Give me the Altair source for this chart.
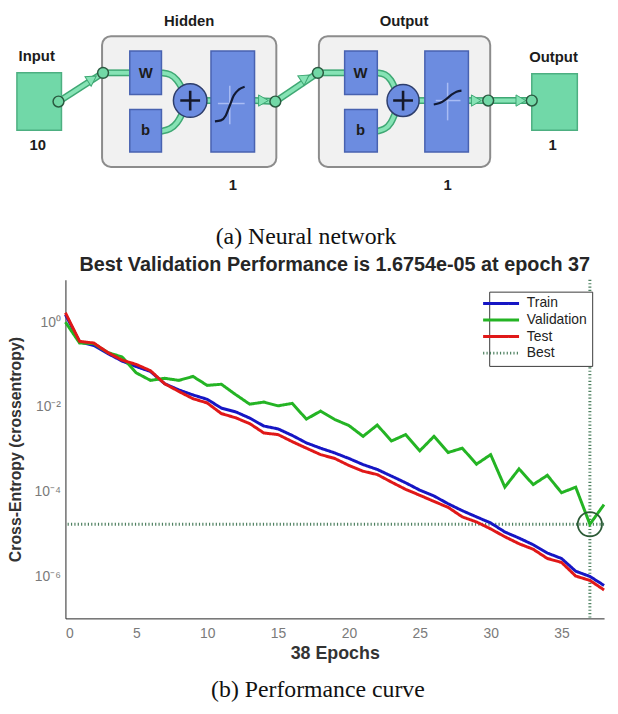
import altair as alt
import pandas as pd

# ---------------- performance curve data ----------------
epochs = list(range(39))
train = [1.5, 0.34, 0.28, 0.18, 0.12, 0.089, 0.068, 0.035, 0.025, 0.019,
         0.015, 0.0093, 0.0076, 0.0054, 0.0035, 0.0030, 0.0021, 0.0014, 1.05e-3, 8.1e-4,
         6.0e-4, 4.3e-4, 3.3e-4, 2.3e-4, 1.6e-4, 1.07e-4, 7.8e-5, 5.1e-5, 3.5e-5, 2.5e-5,
         1.8e-5, 1.1e-5, 7.9e-6, 5.5e-6, 3.5e-6, 2.6e-6, 1.3e-6, 9.8e-7, 6.0e-7]
validation = [1.0, 0.32, 0.31, 0.19, 0.15, 0.063, 0.042, 0.047, 0.042, 0.052,
              0.032, 0.034, 0.0195, 0.0115, 0.0129, 0.0105, 0.012, 0.0051, 0.0079, 0.0050,
              0.0036, 0.0020, 0.0037, 0.00155, 0.0022, 9.1e-4, 0.0020, 8.3e-4, 1.05e-3, 4.4e-4,
              7.4e-4, 1.26e-4, 3.4e-4, 1.45e-4, 2.4e-4, 9.3e-5, 1.26e-4, 1.6754e-5, 4.9e-5]
test = [1.66, 0.35, 0.32, 0.19, 0.126, 0.10, 0.071, 0.035, 0.023, 0.0155,
        0.0123, 0.0069, 0.0055, 0.0040, 0.0024, 0.0022, 0.0015, 1.05e-3, 7.4e-4, 6.0e-4,
        4.1e-4, 3.0e-4, 2.5e-4, 1.66e-4, 1.12e-4, 8.1e-5, 5.8e-5, 4.2e-5, 2.5e-5, 1.9e-5,
        1.3e-5, 8.5e-6, 5.8e-6, 4.3e-6, 2.6e-6, 2.1e-6, 1.0e-6, 7.9e-7, 4.7e-7]
best_epoch = 37
best_value = 1.6754e-05

series_names = ["Train", "Validation", "Test", "Best"]
series_colors = ["#1616C4", "#24B424", "#E01818", "#4E8060"]
series_dash = [[1, 0], [1, 0], [1, 0], [1.2, 2.2]]
series_width = [3, 3, 3, 1.2]

x_tick_values = [0, 5, 10, 15, 20, 25, 30, 35]
y_tick_values = [1, 1e-2, 1e-4, 1e-6]
y_tick_labels = ["10⁰", "10⁻²", "10⁻⁴", "10⁻⁶"]

plot_title = "Best Validation Performance is 1.6754e-05 at epoch 37"
x_title = "38 Epochs"
y_title = "Cross-Entropy  (crossentropy)"
caption_a = "(a) Neural network"
caption_b = "(b) Performance curve"

# ---------------- network diagram data (diagram pixel coordinates) ----------------
container_x1 = [103, 322]
container_x2 = [279, 495]
container_y1 = [33, 33]
container_y2 = [165, 165]

io_x1 = [17, 537]
io_x2 = [62, 583]
io_y1 = [70, 71]
io_y2 = [128, 128]

blue_x1 = [131, 131, 213, 348, 348, 429]
blue_x2 = [163, 163, 257, 381, 381, 473]
blue_y1 = [48, 107, 48, 48, 107, 48]
blue_y2 = [92, 150, 150, 92, 150, 150]

plus_x = [192, 407]
plus_y = [98, 98]
plus_size = [1150, 1050]

node_x = [59, 104, 278, 321, 493, 537]
node_y = [99, 70, 99, 70, 98, 98]

arrow_x = [93, 266, 308, 481, 526]
arrow_y = [76, 98, 75, 98, 98]
arrow_angle = [327, 0, 326, 0, 0]

conn_id = [1, 1, 2, 2, 3, 3, 3, 3, 4, 4, 4, 4, 5, 5, 6, 6, 7, 7, 8, 8,
           9, 9, 9, 9, 10, 10, 10, 10, 11, 11, 12, 12, 13, 13]
conn_x = [59, 104, 104, 131, 163, 172, 179, 184, 163, 172, 179, 184, 205, 214, 257, 278, 278, 321, 321, 348,
          381, 389, 395, 399, 381, 389, 395, 399, 420, 430, 473, 493, 493, 537]
conn_y = [99, 70, 70, 70, 70, 71, 77, 86, 129, 127, 121, 111, 98, 98, 98, 99, 99, 70, 70, 70,
          70, 71, 77, 86, 129, 127, 121, 111, 98, 98, 98, 98, 98, 98]

cross_x1 = [232, 220, 452, 440]
cross_x2 = [232, 247, 452, 465]
cross_y1 = [83, 101, 80, 98]
cross_y2 = [122, 101, 118, 98]

sig_id = [1, 1, 1, 1, 1, 1, 1, 2, 2, 2, 2, 2, 2]
sig_x = [217, 223, 228, 232, 236, 241, 247, 438, 444, 450, 456, 461, 466]
sig_y = [119, 118, 113, 103, 93, 87, 84, 102, 100.5, 97, 92, 89, 88]

label_text = ["Input", "10", "Hidden", "1", "W", "b", "Output", "1", "W", "b", "Output", "1"]
label_x = [37, 38, 191, 235, 147, 147, 408, 452, 364, 364, 559, 558]
label_y = [53, 143, 18, 183, 70, 128, 18, 183, 70, 128, 54, 143]
label_size = [15, 15, 15, 15, 15, 15, 15, 15, 15, 15, 15, 15]

caption_a_x = [309]
caption_a_y = [236]

# ---------------- build diagram ----------------
# the diagram's plot area is aligned with the performance plot (x 66..610 on the page)
XS = alt.Scale(domain=[66, 610], nice=False, zero=False)
YS = alt.Scale(domain=[8, 248], nice=False, zero=False, reverse=True)


def X(f):
    return alt.X(f, type="quantitative", scale=XS, axis=None)


def Y(f):
    return alt.Y(f, type="quantitative", scale=YS, axis=None)


containers = pd.DataFrame({"x1": container_x1, "x2": container_x2, "y1": container_y1, "y2": container_y2})
ios = pd.DataFrame({"x1": io_x1, "x2": io_x2, "y1": io_y1, "y2": io_y2})
blues = pd.DataFrame({"x1": blue_x1, "x2": blue_x2, "y1": blue_y1, "y2": blue_y2})
pluses = pd.DataFrame({"x": plus_x, "y": plus_y, "s": plus_size})
nodes = pd.DataFrame({"x": node_x, "y": node_y})
arrows = pd.DataFrame({"x": arrow_x, "y": arrow_y, "a": arrow_angle})
conns = pd.DataFrame({"id": conn_id, "x": conn_x, "y": conn_y, "o": list(range(len(conn_x)))})
crosses = pd.DataFrame({"x1": cross_x1, "x2": cross_x2, "y1": cross_y1, "y2": cross_y2})
sigs = pd.DataFrame({"id": sig_id, "x": sig_x, "y": sig_y, "o": list(range(len(sig_x)))})
labels = pd.DataFrame({"t": label_text, "x": label_x, "y": label_y, "s": label_size})
cap_a = pd.DataFrame({"t": [caption_a], "x": caption_a_x, "y": caption_a_y})

rect_enc = dict(x=X("x1"), x2=alt.X2("x2"), y=Y("y1"), y2=alt.Y2("y2"))

l_cont = alt.Chart(containers).mark_rect(
    fill="#F1F1F1", stroke="#8C8C8C", strokeWidth=2, cornerRadius=9
).encode(**rect_enc)

l_conn_dark = alt.Chart(conns).mark_line(
    color="#3FA874", strokeWidth=7, interpolate="basis"
).encode(x=X("x"), y=Y("y"), detail="id:N", order="o:Q")
l_conn_light = alt.Chart(conns).mark_line(
    color="#86E3B5", strokeWidth=4, interpolate="basis"
).encode(x=X("x"), y=Y("y"), detail="id:N", order="o:Q")

l_io = alt.Chart(ios).mark_rect(
    fill="#71D8A8", stroke="#4DAF81", strokeWidth=1.5
).encode(**rect_enc)

l_blue = alt.Chart(blues).mark_rect(
    fill="#6C8CE0", stroke="#4862B0", strokeWidth=1.5
).encode(**rect_enc)

l_cross = alt.Chart(crosses).mark_rule(color="#A9BCF4", strokeWidth=1.5).encode(**rect_enc)

l_sig = alt.Chart(sigs).mark_line(
    color="#121A33", strokeWidth=2.2, interpolate="monotone"
).encode(x=X("x"), y=Y("y"), detail="id:N", order="o:Q")

l_plus = alt.Chart(pluses).mark_point(
    shape="circle", filled=True, fill="#6C8CE0", stroke="#2E3E6C", strokeWidth=1.5, opacity=1
).encode(x=X("x"), y=Y("y"), size=alt.Size("s:Q", scale=None))

l_plus_sign = alt.Chart(pluses).mark_point(
    shape="M-1,0H1M0,-1V1", stroke="#15182A", strokeWidth=2.6, size=400, opacity=1
).encode(x=X("x"), y=Y("y"))

l_arrow = alt.Chart(arrows).mark_point(
    shape="triangle-right", filled=True, fill="#86E3B5", stroke="#3FA874", strokeWidth=1,
    size=130, opacity=1
).encode(x=X("x"), y=Y("y"), angle=alt.Angle("a:Q", scale=None))

l_nodes = alt.Chart(nodes).mark_point(
    shape="circle", filled=True, fill="#72D8A6", stroke="#2A5A40", strokeWidth=1.5,
    size=120, opacity=1
).encode(x=X("x"), y=Y("y"))

l_labels = alt.Chart(labels).mark_text(
    font="Liberation Sans", fontWeight="bold", color="#1C1C1C", baseline="middle", align="center"
).encode(x=X("x"), y=Y("y"), text="t:N", size=alt.Size("s:Q", scale=None))

l_cap_a = alt.Chart(cap_a).mark_text(
    font="Liberation Serif", fontSize=24, color="#111111", baseline="middle", align="center"
).encode(x=X("x"), y=Y("y"), text="t:N")

top = alt.layer(
    l_cont, l_conn_dark, l_conn_light, l_io, l_blue, l_cross, l_sig,
    l_plus, l_plus_sign, l_arrow, l_nodes, l_labels, l_cap_a
).properties(width=544, height=240)

# ---------------- build performance chart ----------------
perf = pd.DataFrame({
    "epoch": epochs * 3,
    "series": ["Train"] * 39 + ["Validation"] * 39 + ["Test"] * 39,
    "value": train + validation + test,
})
best_v = pd.DataFrame({"epoch": [best_epoch], "series": ["Best"]})
best_h = pd.DataFrame({"value": [best_value], "series": ["Best"]})
best_pt = pd.DataFrame({"epoch": [best_epoch], "value": [best_value]})

label_expr = " : ".join(
    f"datum.value > {v * 0.5} && datum.value < {v * 2} ? '{t}'" for v, t in zip(y_tick_values, y_tick_labels)
) + " : ''"

xscale = alt.Scale(domain=[0, 38], nice=False, zero=False)
yscale = alt.Scale(type="log", domain=[1e-7, 10], nice=False)

legend = alt.Legend(
    title=None, orient="none", legendX=428, legendY=12,
    symbolType="M-3.3,0H3.3", symbolSize=121, labelOffset=19,
    labelFont="Liberation Sans", labelFontSize=14, labelColor="#222222",
    strokeColor="#3A3A3A", fillColor="#FFFFFF", padding=5, rowPadding=2.7,
    cornerRadius=0,
)
color = alt.Color("series:N", scale=alt.Scale(domain=series_names, range=series_colors), legend=legend)
dash = alt.StrokeDash("series:N", scale=alt.Scale(domain=series_names, range=series_dash), legend=legend)
swidth = alt.StrokeWidth("series:N", scale=alt.Scale(domain=series_names, range=series_width), legend=legend)

xax = alt.Axis(
    values=x_tick_values, title=x_title, ticks=False, labelPadding=8, titlePadding=5,
    labelFont="Liberation Sans", labelFontSize=14, labelColor="#7A7A7A",
    titleFont="Liberation Sans", titleFontSize=18, titleFontWeight="bold", titleColor="#333333",
    domainColor="#262626", grid=False,
)
yax = alt.Axis(
    values=y_tick_values, labelExpr=label_expr, title=y_title, ticks=False, labelPadding=5,
    labelFont="Liberation Sans", labelFontSize=14, labelColor="#7A7A7A",
    titleFont="Liberation Sans", titleFontSize=16, titleFontWeight="bold", titleColor="#333333",
    titleAngle=270, titleX=-58, titleY=171, titleBaseline="top", titleAlign="center",
    domainColor="#262626", grid=False,
)

lines = alt.Chart(perf).mark_line().encode(
    x=alt.X("epoch:Q", scale=xscale, axis=xax),
    y=alt.Y("value:Q", scale=yscale, axis=yax),
    color=color, strokeDash=dash, strokeWidth=swidth,
)
vrule = alt.Chart(best_v).mark_rule().encode(
    x=alt.X("epoch:Q", scale=xscale), color=color, strokeDash=dash, strokeWidth=swidth
)
hrule = alt.Chart(best_h).mark_rule().encode(
    y=alt.Y("value:Q", scale=yscale), color=color, strokeDash=dash, strokeWidth=swidth
)
circle = alt.Chart(best_pt).mark_point(
    shape="circle", filled=False, stroke="#2B5A35", strokeWidth=1.8, size=600, opacity=1
).encode(x=alt.X("epoch:Q", scale=xscale), y=alt.Y("value:Q", scale=yscale))

bottom = alt.layer(vrule, hrule, lines, circle).properties(
    width=544, height=342,
    title=alt.TitleParams(
        plot_title, font="Liberation Sans", fontSize=20, fontWeight="bold", color="#262626",
        anchor="middle", frame="group", offset=3,
    ),
)

chart = alt.vconcat(top, bottom, spacing=6).resolve_scale(
    color="independent", strokeDash="independent", strokeWidth="independent"
).resolve_legend(
    color="independent", strokeDash="independent", strokeWidth="independent"
).properties(
    padding=0,
    title=alt.TitleParams(
        caption_b, orient="bottom", anchor="middle", font="Liberation Serif", fontSize=24,
        fontWeight="normal", color="#111111", offset=15, dx=9,
    ),
).configure_view(stroke=None)

chart.save("out.html", embed_options={"renderer": "svg", "actions": False})
